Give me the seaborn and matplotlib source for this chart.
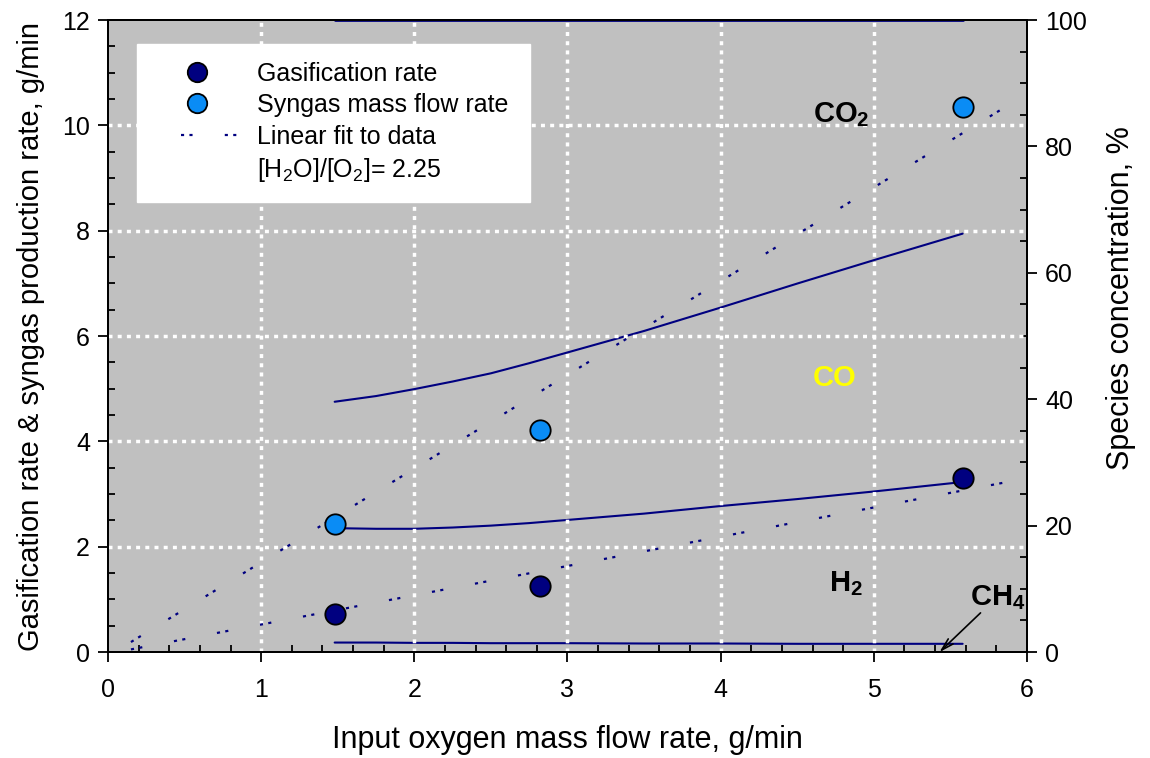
import numpy as np
import matplotlib
matplotlib.use("Agg")
import matplotlib.pyplot as plt
import seaborn as sns
from matplotlib.lines import Line2D
from matplotlib.ticker import MultipleLocator

# measured points (left axis, g/min)
o2_flow = [1.48, 2.82, 5.58]
gasification_rate = [0.72, 1.25, 3.30]
syngas_rate = [2.43, 4.21, 10.35]

# linear fits, end points
fit_x = [0.15, 6.0]
gasification_fit = [0.05, 3.30]
syngas_fit = [0.19, 10.60]

# species concentrations, % (right axis)
conc_x = [1.48, 1.75, 2.0, 2.25, 2.5, 2.75, 3.0, 3.5, 4.0, 4.5, 5.0, 5.58]
co2_conc = [39.6, 40.5, 41.6, 42.8, 44.1, 45.7, 47.4, 50.8, 54.5, 58.3, 62.0, 66.2]
h2_conc = [19.6, 19.5, 19.5, 19.7, 20.0, 20.4, 20.9, 21.9, 23.1, 24.2, 25.4, 26.9]
ch4_conc = [1.5, 1.5, 1.45, 1.45, 1.4, 1.4, 1.4, 1.35, 1.35, 1.3, 1.3, 1.3]
total_x = [1.48, 5.58]
total_conc = [100, 100]

x_grid = [1, 2, 3, 4, 5]
y_grid = [2, 4, 6, 8, 10]

navy = "#000080"
light_blue = "#0A8CF5"
bg = "#C0C0C0"
fit_dash = (0, (1.4, 2.4, 1.4, 14.5))

sns.set_style("ticks")
plt.rcParams["font.family"] = ["Liberation Sans", "DejaVu Sans"]
plt.rcParams["mathtext.fontset"] = "custom"
plt.rcParams["mathtext.rm"] = "Liberation Sans"
plt.rcParams["mathtext.it"] = "Liberation Sans:italic"
plt.rcParams["mathtext.bf"] = "Liberation Sans:bold"
for k in ["text.color", "axes.labelcolor", "xtick.color", "ytick.color"]:
    plt.rcParams[k] = "black"

fig, ax = plt.subplots(figsize=(11.5, 7.58), dpi=100)
fig.subplots_adjust(left=0.0939, right=0.893, top=0.9736, bottom=0.1398)
ax2 = ax.twinx()

# background on the twin (drawn first), main axes on top
ax2.set_zorder(1)
ax.set_zorder(2)
ax.patch.set_visible(False)
ax2.patch.set_facecolor(bg)
ax2.patch.set_visible(True)

# white dotted grid
for v in x_grid:
    ax.axvline(v, color="white", lw=2.5, linestyle=(0, (1.15, 1.5)), zorder=0)
for v in y_grid:
    ax.axhline(v, color="white", lw=2.5, linestyle=(0, (1.15, 1.5)), zorder=0)

# species curves on right axis
for yy in [co2_conc, h2_conc, ch4_conc]:
    sns.lineplot(x=conc_x, y=yy, ax=ax2, color=navy, lw=1.5,
                 estimator=None, sort=False)
ax2.plot(total_x, total_conc, color=navy, lw=2, clip_on=False, zorder=3)

# linear fits
ax.plot(fit_x, gasification_fit, color=navy, lw=1.6, linestyle=fit_dash, zorder=2)
ax.plot(fit_x, syngas_fit, color=navy, lw=1.6, linestyle=fit_dash, zorder=2)

# data points
sns.scatterplot(x=o2_flow, y=gasification_rate, ax=ax, s=215, color=navy,
                edgecolor="black", linewidth=1.3, zorder=5)
sns.scatterplot(x=o2_flow, y=syngas_rate, ax=ax, s=215, color=light_blue,
                edgecolor="black", linewidth=1.3, zorder=5)

ax.set_xlim(0, 6)
ax.set_ylim(0, 12)
ax2.set_ylim(0, 100)

ax.xaxis.set_major_locator(MultipleLocator(1))
ax.xaxis.set_minor_locator(MultipleLocator(0.2))
ax.yaxis.set_major_locator(MultipleLocator(2))
ax.yaxis.set_minor_locator(MultipleLocator(0.5))
ax2.yaxis.set_major_locator(MultipleLocator(20))
ax2.yaxis.set_minor_locator(MultipleLocator(5))

ax.tick_params(which="major", direction="out", length=7, width=1.3,
               labelsize=18, color="black", pad=12)
ax.tick_params(axis="y", which="major", pad=6)
ax.tick_params(which="minor", direction="in", length=5, width=1.3)
ax2.tick_params(which="major", direction="out", length=7, width=1.3,
                labelsize=18, pad=6)
ax2.tick_params(which="minor", direction="in", length=5, width=1.3)

for a in (ax, ax2):
    for s in a.spines.values():
        s.set_visible(True)
        s.set_color("black")
        s.set_linewidth(1.4)

ax.set_xlabel("Input oxygen mass flow rate, g/min", fontsize=22, labelpad=16)
ax.set_ylabel("Gasification rate & syngas production rate, g/min", fontsize=21,
              labelpad=12)
ax2.set_ylabel("Species concentration, %", fontsize=22)
ax2.yaxis.set_label_coords(1.086, 0.56)

# species labels
ax.text(4.60, 10.06, r"CO$_\mathbf{2}$", fontsize=21, fontweight="bold")
ax.text(4.60, 5.05, "CO", fontsize=21, fontweight="bold", color="#FFFF00")
ax.text(4.71, 1.16, r"H$_\mathbf{2}$", fontsize=21, fontweight="bold")
ax.text(5.63, 0.88, r"CH$_\mathbf{4}$", fontsize=21, fontweight="bold")
ax.annotate("", xy=(5.415, -0.04), xytext=(5.71, 0.78),
            arrowprops=dict(arrowstyle="->,head_length=0.9,head_width=0.25",
                            color="black", lw=1.2),
            annotation_clip=False)

# legend
handles = [
    Line2D([], [], marker="o", ls="none", mfc=navy, mec="black", mew=1.3, ms=14),
    Line2D([], [], marker="o", ls="none", mfc=light_blue, mec="black", mew=1.3, ms=14),
    Line2D([], [], color=navy, lw=1.6, linestyle=(8.0, (1.4, 2.4, 1.4, 14.5))),
    Line2D([], [], ls="none"),
]
labels = ["Gasification rate", "Syngas mass flow rate", "Linear fit to data",
          r"[H$_2$O]/[O$_2$]= 2.25"]
leg = ax.legend(handles, labels, loc="upper left",
                bbox_to_anchor=(0.0316, 0.962, 0.4274, 0.0), mode="expand",
                fontsize=18, frameon=True, fancybox=False, framealpha=1,
                facecolor="white", edgecolor="white", borderpad=0.7,
                handlelength=3.4, handletextpad=0.7, labelspacing=0.3,
                borderaxespad=0)
leg.set_zorder(10)

fig.savefig("out.png", dpi=100)
